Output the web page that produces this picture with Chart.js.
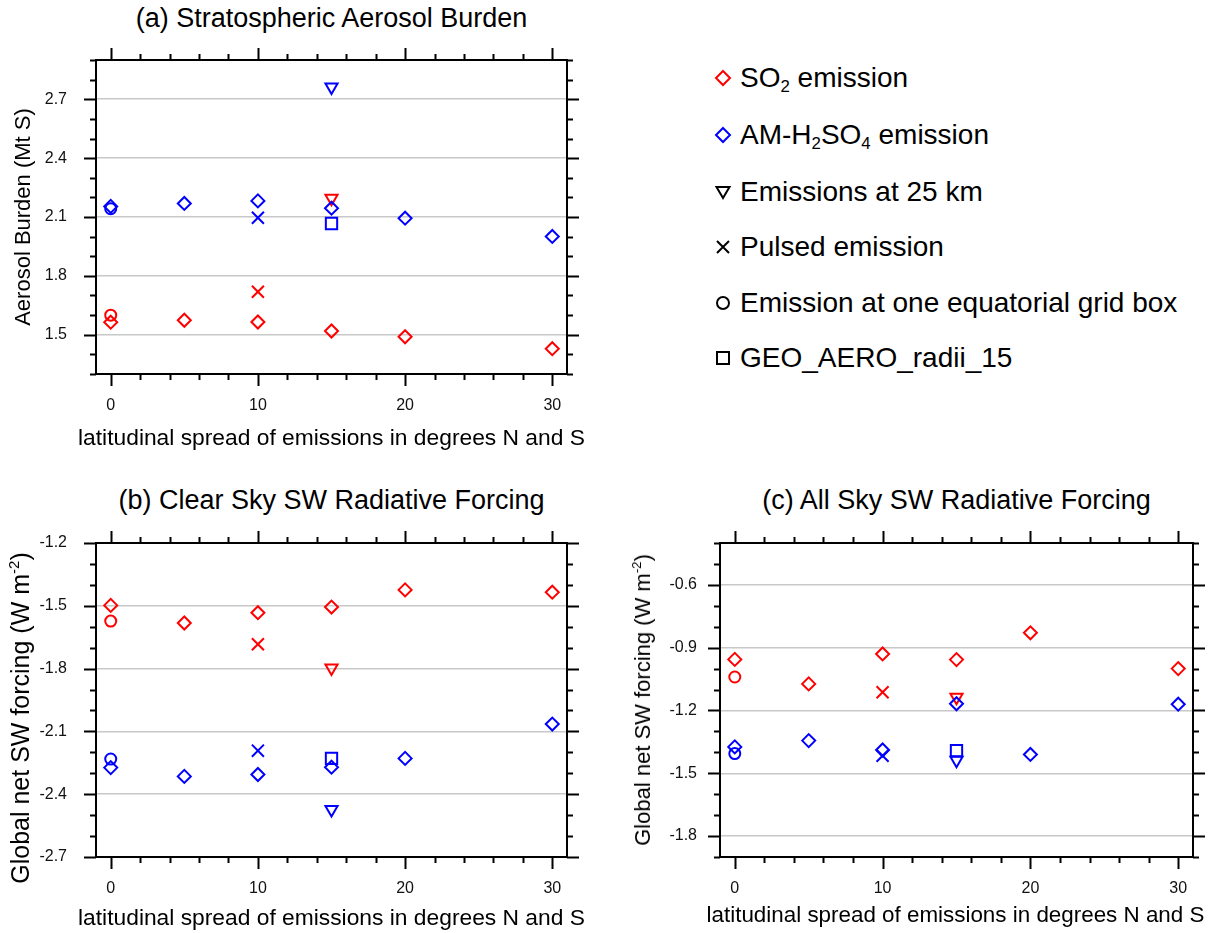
<!DOCTYPE html>
<html>
<head>
<meta charset="utf-8">
<script src="https://cdn.jsdelivr.net/npm/chart.js@4.4.1/dist/chart.umd.min.js"></script>
<style>
body { margin: 0; background: #fff; font-family: "Liberation Sans", Arial, sans-serif; color: #000; }
#page { position: relative; width: 1211px; height: 933px; overflow: hidden; }
canvas { position: absolute; }
.title { position: absolute; text-align: center; font-size: 27px; line-height: 30px; white-space: nowrap; }
.xtitle { position: absolute; text-align: center; font-size: 22.8px; line-height: 26px; white-space: nowrap; }
.ytitle { position: absolute; font-size: 22px; line-height: 26px; white-space: nowrap; transform: translate(-50%, -50%) rotate(-90deg); }
.item { position: absolute; left: 714px; height: 30px; display: flex; align-items: center; font-size: 28px; white-space: nowrap; }
.item svg { width: 18px; height: 18px; margin-right: 8px; }
sub { font-size: 60%; vertical-align: -0.3em; line-height: 0; }
sup { font-size: 60%; vertical-align: 0.7em; line-height: 0; }
</style>
</head>
<body>
<div id="page">
  <div class="title" style="left:96px; width:471px; top:3px;">(a) Stratospheric Aerosol Burden</div>
  <div class="title" style="left:96px; width:471px; top:485px;">(b) Clear Sky SW Radiative Forcing</div>
  <div class="title" style="left:720px; width:473px; top:485px;">(c) All Sky SW Radiative Forcing</div>

  <canvas id="chartA" width="600" height="400" style="left:0; top:40px;"></canvas>
  <canvas id="chartB" width="600" height="400" style="left:0; top:520px;"></canvas>
  <canvas id="chartC" width="611" height="400" style="left:600px; top:520px;"></canvas>

  <div class="xtitle" style="left:60px; width:543px; top:424px;">latitudinal spread of emissions in degrees N and S</div>
  <div class="xtitle" style="left:60px; width:543px; top:904px;">latitudinal spread of emissions in degrees N and S</div>
  <div class="xtitle" style="left:684px; width:543px; top:902px; font-size:22.4px;">latitudinal spread of emissions in degrees N and S</div>

  <div class="ytitle" style="left:23px; top:217px;">Aerosol Burden (Mt S)</div>
  <div class="ytitle" style="left:20px; top:718px; font-size:25px;">Global net SW forcing (W m<sup>-2</sup>)</div>
  <div class="ytitle" style="left:643px; top:700px;">Global net SW forcing (W m<sup>-2</sup>)</div>

  <div id="legend"></div>
</div>

<script>
// x positions: latitudinal spread (degrees N and S)
const spread = [0, 5, 10, 15, 20, 30];
const circleX = [0];
const pulsedX = [10];
const highX = [15];
const geoX = [15];
const xTickLabels = [0, 10, 20, 30];

// (a) stratospheric aerosol burden (Mt S)
const burdenSO2 = [1.564, 1.574, 1.565, 1.519, 1.490, 1.429];
const burdenAM = [2.154, 2.169, 2.182, 2.145, 2.094, 2.001];
const burdenCircleSO2 = [1.600];
const burdenCircleAM = [2.142];
const burdenPulsedSO2 = [1.719];
const burdenPulsedAM = [2.096];
const burden25kmSO2 = [2.196];
const burden25kmAM = [2.763];
const burdenGeoAM = [2.067];
const burdenTicks = [1.5, 1.8, 2.1, 2.4, 2.7];

// (b) clear sky SW forcing (W m-2)
const clearSO2 = [-1.498, -1.582, -1.533, -1.506, -1.424, -1.435];
const clearAM = [-2.273, -2.315, -2.306, -2.271, -2.229, -2.065];
const clearCircleSO2 = [-1.573];
const clearCircleAM = [-2.232];
const clearPulsedSO2 = [-1.684];
const clearPulsedAM = [-2.192];
const clear25kmSO2 = [-1.797];
const clear25kmAM = [-2.473];
const clearGeoAM = [-2.229];
const clearTicks = [-2.7, -2.4, -2.1, -1.8, -1.5, -1.2];

// (c) all sky SW forcing (W m-2)
const allSO2 = [-0.956, -1.073, -0.930, -0.957, -0.829, -1.000];
const allAM = [-1.374, -1.344, -1.389, -1.168, -1.410, -1.170];
const allCircleSO2 = [-1.040];
const allCircleAM = [-1.406];
const allPulsedSO2 = [-1.113];
const allPulsedAM = [-1.416];
const all25kmSO2 = [-1.137];
const all25kmAM = [-1.438];
const allGeoAM = [-1.392];
const allTicks = [-1.8, -1.5, -1.2, -0.9, -0.6];

const legendItems = [
    { label: 'SO<sub>2</sub> emission', shape: 'diamond', color: '#ff0000' },
    { label: 'AM-H<sub>2</sub>SO<sub>4</sub> emission', shape: 'diamond', color: '#0000ff' },
    { label: 'Emissions at 25 km', shape: 'triangle', color: '#000' },
    { label: 'Pulsed emission', shape: 'cross', color: '#000' },
    { label: 'Emission at one equatorial grid box', shape: 'circle', color: '#000' },
    { label: 'GEO_AERO_radii_15', shape: 'square', color: '#000' }
];
const legendRows = [78, 135, 192, 247, 303, 358];

const RED = '#ff0000';
const BLUE = '#0000ff';
const FONT = "'Liberation Sans', Arial, sans-serif";

function series(xs, ys, color, style, radius, rotation) {
    return {
        data: ys.map((v, i) => ({ x: xs[i], y: v })),
        pointStyle: style,
        pointRadius: radius,
        pointHoverRadius: radius,
        pointBorderColor: color,
        pointBackgroundColor: 'rgba(0,0,0,0)',
        pointBorderWidth: 2,
        pointRotation: rotation || 0,
        showLine: false
    };
}

// frame box plus outward major/minor tick marks on all four sides
const frameTicks = {
    id: 'frameTicks',
    afterDraw(chart, args, opts) {
        const { ctx, chartArea: a, scales: { x, y } } = chart;
        ctx.save();
        ctx.strokeStyle = '#000';
        ctx.lineWidth = 2;
        ctx.beginPath();
        for (let i = Math.round(y.min / opts.yStep); i <= Math.round(y.max / opts.yStep); i++) {
            const v = i * opts.yStep;
            const len = opts.yMajor.some(t => Math.abs(t - v) < 1e-6) ? 12 : 6;
            const py = Math.round(y.getPixelForValue(v)) + 0.5;
            ctx.moveTo(a.left - len, py); ctx.lineTo(a.left, py);
            ctx.moveTo(a.right, py); ctx.lineTo(a.right + len, py);
        }
        for (let i = Math.ceil(x.min / opts.xStep); i <= Math.floor(x.max / opts.xStep); i++) {
            const v = i * opts.xStep;
            const len = xTickLabels.includes(v) ? 12 : 6;
            const px = Math.round(x.getPixelForValue(v)) + 0.5;
            ctx.moveTo(px, a.top - len); ctx.lineTo(px, a.top);
            ctx.moveTo(px, a.bottom); ctx.lineTo(px, a.bottom + len);
        }
        ctx.stroke();
        ctx.strokeRect(a.left, a.top, a.right - a.left, a.bottom - a.top);
        ctx.restore();
    }
};

function makePanel(id, cfg) {
    return new Chart(document.getElementById(id), {
        type: 'scatter',
        data: {
            datasets: [
                series(spread, cfg.so2, RED, 'rectRot', 6.5),
                series(spread, cfg.am, BLUE, 'rectRot', 6.5),
                series(circleX, cfg.circleSO2, RED, 'circle', 5.5),
                series(circleX, cfg.circleAM, BLUE, 'circle', 5.5),
                series(pulsedX, cfg.pulsedSO2, RED, 'crossRot', 8.5),
                series(pulsedX, cfg.pulsedAM, BLUE, 'crossRot', 8.5),
                series(highX, cfg.highSO2, RED, 'triangle', 7, 180),
                series(highX, cfg.highAM, BLUE, 'triangle', 7, 180),
                series(geoX, cfg.geoAM, BLUE, 'rect', 8)
            ]
        },
        options: {
            responsive: false,
            animation: false,
            events: [],
            layout: { padding: { top: cfg.padTop, right: cfg.padRight, left: 0, bottom: 0 } },
            plugins: {
                legend: { display: false },
                tooltip: { enabled: false },
                frameTicks: { yStep: 0.1, xStep: 2, yMajor: cfg.ticks }
            },
            scales: {
                x: {
                    type: 'linear',
                    min: -1,
                    max: 31,
                    afterBuildTicks: s => { s.ticks = xTickLabels.map(v => ({ value: v })); },
                    afterFit: s => { s.height = cfg.xHeight; s.paddingLeft = 0; s.paddingRight = 0; },
                    grid: { display: false, drawTicks: false },
                    border: { display: false },
                    ticks: { autoSkip: false, maxRotation: 0, padding: 22, color: '#111', font: { family: FONT, size: 16 } }
                },
                y: {
                    min: cfg.min,
                    max: cfg.max,
                    afterBuildTicks: s => { s.ticks = cfg.ticks.map(v => ({ value: v })); },
                    afterFit: s => { s.width = cfg.yWidth; s.paddingTop = 0; s.paddingBottom = 0; },
                    grid: { color: '#c8c8c8', lineWidth: 1.5, drawTicks: false },
                    border: { display: false },
                    ticks: { autoSkip: false, padding: cfg.yPad, color: '#111', font: { family: FONT, size: 16 }, callback: v => v.toFixed(1) }
                }
            }
        },
        plugins: [frameTicks]
    });
}

function markerSvg(shape, color) {
    const st = `fill="none" stroke="${color}" stroke-width="2"`;
    const shapes = {
        diamond: `<path d="M9 2 L16 9 L9 16 L2 9 Z" ${st}/>`,
        triangle: `<path d="M2.5 4 H15.5 L9 15 Z" ${st}/>`,
        cross: `<path d="M3 3 L15 15 M15 3 L3 15" ${st}/>`,
        circle: `<circle cx="9" cy="9" r="6" ${st}/>`,
        square: `<rect x="3" y="3" width="12" height="12" ${st}/>`
    };
    return `<svg viewBox="0 0 18 18">${shapes[shape]}</svg>`;
}

function buildLegend() {
    const box = document.getElementById('legend');
    box.innerHTML = legendItems.map((it, i) => `
        <div class="item" style="top:${legendRows[i] - 15}px;">
            ${markerSvg(it.shape, it.color)}<span>${it.label}</span>
        </div>`).join('');
}

document.addEventListener('DOMContentLoaded', () => {
    buildLegend();

    makePanel('chartA', {
        so2: burdenSO2, am: burdenAM,
        circleSO2: burdenCircleSO2, circleAM: burdenCircleAM,
        pulsedSO2: burdenPulsedSO2, pulsedAM: burdenPulsedAM,
        highSO2: burden25kmSO2, highAM: burden25kmAM, geoAM: burdenGeoAM,
        ticks: burdenTicks, min: 1.3, max: 2.9,
        padTop: 20, padRight: 33, yWidth: 96, xHeight: 66, yPad: 29
    });

    makePanel('chartB', {
        so2: clearSO2, am: clearAM,
        circleSO2: clearCircleSO2, circleAM: clearCircleAM,
        pulsedSO2: clearPulsedSO2, pulsedAM: clearPulsedAM,
        highSO2: clear25kmSO2, highAM: clear25kmAM, geoAM: clearGeoAM,
        ticks: clearTicks, min: -2.7, max: -1.2,
        padTop: 23, padRight: 33, yWidth: 96, xHeight: 63, yPad: 29
    });

    makePanel('chartC', {
        so2: allSO2, am: allAM,
        circleSO2: allCircleSO2, circleAM: allCircleAM,
        pulsedSO2: allPulsedSO2, pulsedAM: allPulsedAM,
        highSO2: all25kmSO2, highAM: all25kmAM, geoAM: allGeoAM,
        ticks: allTicks, min: -1.9, max: -0.4,
        padTop: 23, padRight: 18, yWidth: 120, xHeight: 63, yPad: 23
    });
});
</script>
</body>
</html>
